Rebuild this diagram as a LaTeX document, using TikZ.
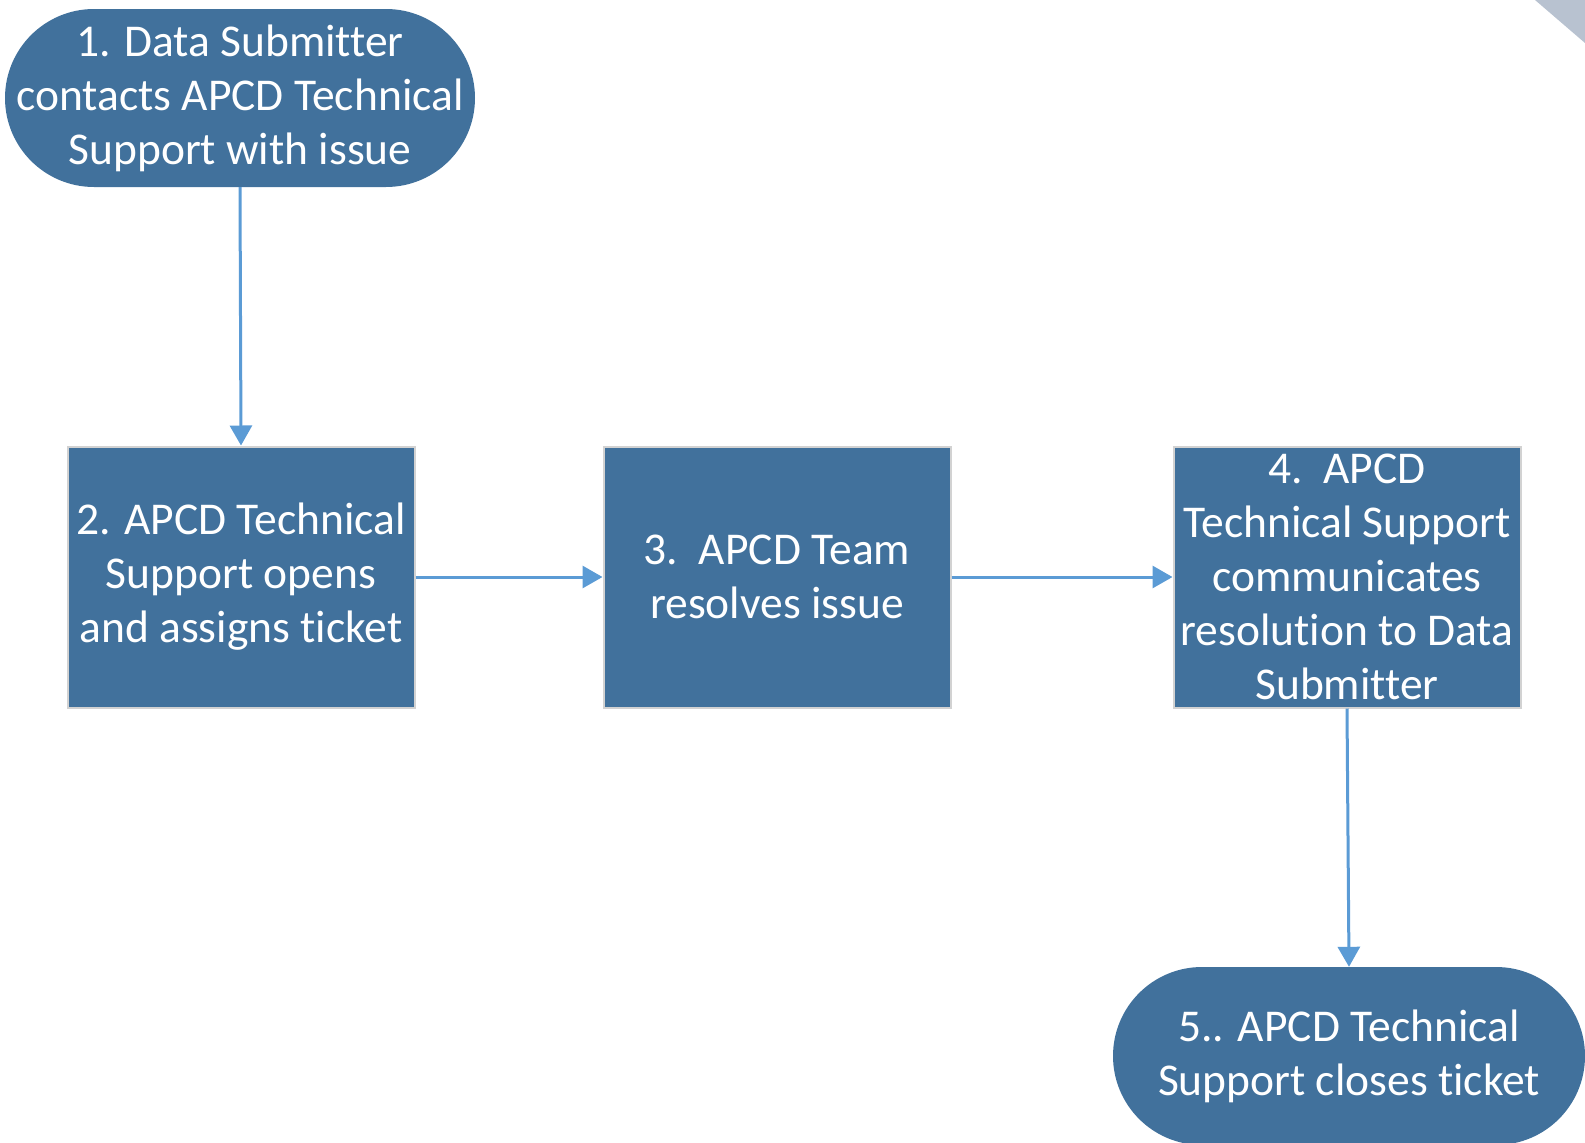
\documentclass[tikz,border=0pt]{standalone}
\usepackage{fontspec}
\setmainfont{Carlito}[Ligatures=NoCommon]
\usepackage{tikz}
\usetikzlibrary{arrows.meta}
\usetikzlibrary{shapes,calc}

\definecolor{boxblue}{HTML}{41719C}
\definecolor{lineblue}{HTML}{5B9BD5}
\definecolor{cornergray}{HTML}{B8C2D0}

\tikzset{
	stepbox/.style={rectangle, draw=gray!35, line width=2pt, fill=boxblue, text=white, align=center, minimum width=347pt, minimum height=261pt, inner sep=0pt, font=\fontsize{45.5}{54}\selectfont},
	endbox/.style={rectangle, rounded corners=89pt, fill=boxblue, text=white, align=center, minimum width=470pt, minimum height=178pt, inner sep=0pt, font=\fontsize{45.5}{54}\selectfont},
	flow/.style={draw=lineblue, line width=3pt, -{Triangle[length=20pt, width=22pt]}}
}

\begin{document}
\begin{tikzpicture}[x=1pt,y=-1pt]
		\clip (0,0) rectangle (1585,1143);
		\fill [cornergray] (1535,0) -- (1585,0) -- (1585,43) -- cycle;
		
		\node (contact) [endbox] at (240,98) {1. Data Submitter \\ contacts APCD Technical \\ Support with issue};
		
		\node (opens) [stepbox] at (241,577) {2. APCD Technical \\ Support opens \\ and assigns ticket};
		
		\node (resolve) [stepbox] at (777,577) {3.\ \ APCD Team \\ resolves issue};
		
		\node (inform) [stepbox] at (1347,577) {4.\ \ APCD \\ Technical Support \\ communicates \\ resolution to Data \\ Submitter};
		
		\node (close) [endbox, minimum width=472pt] at (1349,1056) {5.. APCD Technical \\ Support closes ticket};
		
		\draw [flow] (contact.south) -- (opens.north);
		\draw [flow] (opens) -- (resolve);
		\draw [flow] (resolve) -- (inform);
		\draw [flow] (inform.south) -- (close.north);
		
\end{tikzpicture}
\end{document}
